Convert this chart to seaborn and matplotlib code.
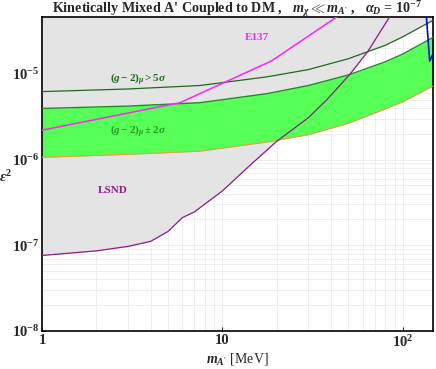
import numpy as np
import matplotlib
matplotlib.use("Agg")
import matplotlib.pyplot as plt
import matplotlib.ticker as mticker
import seaborn as sns
import pandas as pd

# values (m_A' in MeV, eps^2)
band_m = [1, 3, 7.5, 17.6, 30, 50, 80, 100, 147]
band_lo = [1.06e-6, 1.15e-6, 1.25e-6, 1.6e-6, 1.95e-6, 2.65e-6, 3.9e-6, 4.7e-6, 7.2e-6]
band_hi = [3.94e-6, 4.2e-6, 4.6e-6, 5.86e-6, 7.3e-6, 9.7e-6, 1.38e-5, 1.7e-5, 2.65e-5]
g5_eps = [6.2e-6, 6.65e-6, 7.3e-6, 9.2e-6, 1.12e-5, 1.5e-5, 2.15e-5, 2.7e-5, 4.2e-5]

lsnd_m = [1, 2, 3, 4, 5, 6, 7, 10, 14, 20, 30, 38, 51, 64, 85]
lsnd_eps = [7.6e-8, 8.6e-8, 9.7e-8, 1.11e-7, 1.45e-7, 2.1e-7, 2.45e-7, 4.3e-7,
            8.3e-7, 1.63e-6, 3.08e-6, 5.0e-6, 9.9e-6, 1.82e-5, 4.7e-5]

e137_m = [1, 5.82, 18.7, 50]
e137_eps = [2.2e-6, 4.6e-6, 1.41e-5, 5.7e-5]

blue_m = [134, 141, 150]
blue_eps = [6e-5, 1.41e-5, 1.85e-5]

x_ticks = [1, 10, 100]
x_labels = ["1", "10", "$10^2$"]
y_ticks = [1e-8, 1e-7, 1e-6, 1e-5]
y_labels = ["$10^{-8}$", "$10^{-7}$", "$10^{-6}$", "$10^{-5}$"]

xmin, xmax = 1, 147
ymin, ymax = 1e-8, 4.6e-5

sns.set_style("white")
plt.rcParams['font.family'] = ['Liberation Serif', 'DejaVu Serif']
plt.rcParams['font.weight'] = 'bold'
plt.rcParams['mathtext.fontset'] = 'custom'
plt.rcParams['mathtext.rm'] = 'Liberation Serif:bold'
plt.rcParams['mathtext.it'] = 'Liberation Serif:italic:bold'
plt.rcParams['mathtext.bf'] = 'Liberation Serif:bold'

fig = plt.figure(figsize=(4.36, 3.69), dpi=100)
ax = fig.add_axes([0.0963, 0.103, 0.8967, 0.851])
ax.set_xscale("log")
ax.set_yscale("log")
ax.set_xlim(xmin, xmax)
ax.set_ylim(ymin, ymax)

ax.set_axisbelow(True)
ax.grid(which="both", color="#ebebeb", lw=0.6)

gray = "#e4e4e4"
ax.fill_between(lsnd_m, lsnd_eps, ymax * 2, color=gray, lw=0, zorder=1)
ax.fill_between(band_m, g5_eps, ymax * 2, color=gray, lw=0, zorder=1)
ax.fill_between(band_m, band_lo, band_hi, color="#55ff55", lw=0, zorder=2)

band = pd.DataFrame({"m": band_m, "lo": band_lo, "hi": band_hi, "g5": g5_eps})
sns.lineplot(data=band, x="m", y="hi", color="#22882a", lw=1.0, ax=ax, zorder=3)
sns.lineplot(data=band, x="m", y="lo", color="#e8a040", lw=0.8, ax=ax, zorder=3)
sns.lineplot(data=band, x="m", y="g5", color="#1c6a1c", lw=0.9, ax=ax, zorder=3)
sns.lineplot(x=lsnd_m, y=lsnd_eps, color="#8b1a8b", lw=0.9, ax=ax, zorder=4)
sns.lineplot(x=e137_m, y=e137_eps, color="#ff22ff", lw=1.1, ax=ax, zorder=4)
sns.lineplot(x=blue_m, y=blue_eps, color="#0000ff", lw=1.2, ax=ax, zorder=4, sort=False)

ax.text(15.5, 2.67e-5, "E137", color="#ff22ff", fontsize=8, ha="center", va="center")
ax.text(3.4, 8.6e-6, r"$(g-2)_\mu > 5\sigma$", color="#1c6a1c", fontsize=8,
        ha="center", va="center")
ax.text(3.4, 2.18e-6, r"$(g-2)_\mu \pm 2\sigma$", color="#2a9a2a", fontsize=8,
        ha="center", va="center")
ax.text(2.47, 4.3e-7, "LSND", color="#8b1a8b", fontsize=8, ha="center", va="center")

ax.xaxis.set_major_locator(mticker.FixedLocator(x_ticks))
ax.xaxis.set_major_formatter(mticker.FixedFormatter(x_labels))
ax.yaxis.set_major_locator(mticker.FixedLocator(y_ticks))
ax.yaxis.set_major_formatter(mticker.FixedFormatter(y_labels))
ax.xaxis.set_minor_locator(mticker.LogLocator(subs=np.arange(2, 10)))
ax.yaxis.set_minor_locator(mticker.LogLocator(subs=np.arange(2, 10)))
ax.tick_params(which="major", direction="in", length=3, width=0.8, labelsize=10.5,
               pad=2, bottom=True, left=True)
ax.tick_params(which="minor", length=0)

for s in ax.spines.values():
    s.set_color("black")
    s.set_linewidth(1.2)

ax.set_xlabel(r"$m_{A'}$ [MeV]", fontsize=10, labelpad=1)
ax.set_ylabel(r"$\epsilon^2$", fontsize=10.5, rotation=0, ha="center", va="center")
ax.yaxis.set_label_coords(-0.094, 0.49)
ax.set_title(r"Kinetically Mixed A' Coupled to DM ,   $m_\chi \ll m_{A'}$ ,   $\alpha_D$ = $10^{-7}$",
             fontsize=10.2, pad=3, fontweight="bold")

fig.savefig("out.png", dpi=100)
